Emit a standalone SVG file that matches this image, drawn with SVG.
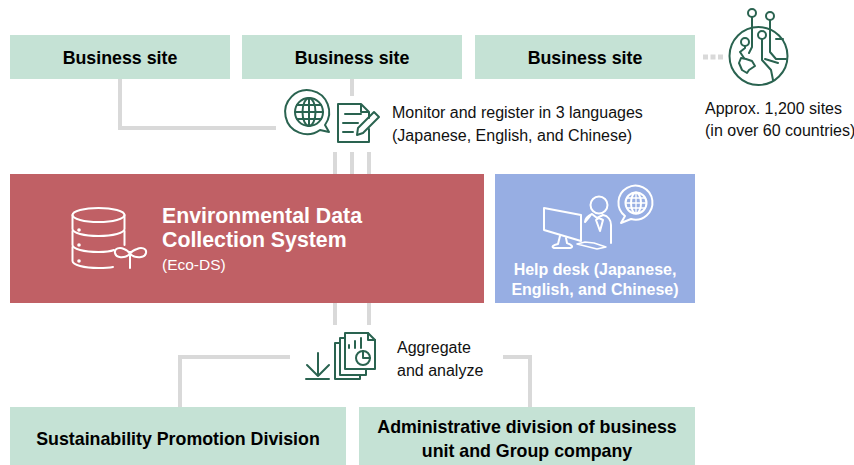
<svg xmlns="http://www.w3.org/2000/svg" width="854" height="465" viewBox="0 0 854 465">
<style>
text{font-family:"Liberation Sans",Arial,sans-serif;}
.g{fill:#c5e2d5}
.t{font-size:17.800px;font-weight:bold;fill:#000;text-anchor:middle}
.s{font-size:16px;fill:#111}
.c{fill:none;stroke:#d9d9d9;stroke-width:4}
.i{fill:none;stroke:#2a6350;stroke-width:2;stroke-linejoin:round;stroke-linecap:round}
.w{fill:none;stroke:#fff;stroke-width:2;stroke-linejoin:round;stroke-linecap:round}
</style>
<g id="connectors">
<path class="c" d="M120 79V128H276"/>
<path class="c" d="M352 79V96"/>
<path class="c" d="M335 152V174M352 152V174M369 152V174"/>
<path class="c" d="M335 303V325M369 303V325"/>
<path class="c" d="M180 407V357H290"/>
<path class="c" d="M503 357H530V407"/>
<path d="M703 57H723" fill="none" stroke="#d9d9d9" stroke-width="5" stroke-dasharray="5 2.500"/>
</g>
<g id="site1"><rect class="g" x="10" y="35" width="220" height="44"/><text class="t" x="120" y="64">Business site</text></g>
<g id="site2"><rect class="g" x="242" y="35" width="220" height="44"/><text class="t" x="352" y="64">Business site</text></g>
<g id="site3"><rect class="g" x="475" y="35" width="220" height="44"/><text class="t" x="585" y="64">Business site</text></g>
<g id="globe-icon" class="i">
<path d="M325 125A22 22 0 1 0 320 130L329 132Z"/>
<circle cx="309" cy="112" r="14"/>
<ellipse cx="309" cy="112" rx="6.500" ry="14"/>
<path d="M309 98V126M295 112H323M297 105H321M297 119H321"/>
</g>
<g id="form-icon" class="i">
<path d="M369 129V142H338V104H361L369 112V118M361 104V112H369"/>
<path d="M345 114H361M343 123H358M343 132H353"/>
<path d="M358 128L374 112L379 117L363 133L357 135Z"/>
</g>
<g id="monitor-label"><text class="s" x="392" y="118">Monitor and register in 3 languages</text><text class="s" x="392" y="141">(Japanese, English, and Chinese)</text></g>
<g id="world-icon" class="i">
<circle cx="758.500" cy="56" r="29"/>
<circle cx="752" cy="13" r="4"/><circle cx="770" cy="16" r="4"/><circle cx="762" cy="35" r="4"/><circle cx="745" cy="42" r="4"/>
<path d="M752 17V39M770 20V52L776 59H786M762 39V60L771 70L773 80"/>
<path d="M745 46V48L740 52L744 58M752 39V47L749 53M776 39H783M765 59L778 63"/>
<path d="M741 58L746 59L752 61L755 66L749 70L747 73L742 70L739 63Z"/>
</g>
<g id="sites-label"><text class="s" x="705" y="114">Approx. 1,200 sites</text><text class="s" x="705" y="136">(in over 60 countries)</text></g>
<g id="eco-ds">
<rect x="10" y="174" width="474" height="129" fill="#c06065"/>
<g class="w">
<ellipse cx="98.500" cy="215" rx="26" ry="7"/>
<path d="M72.500 215V229C72.500 233 84 236 98.500 236S124.500 233 124.500 229V215"/>
<path d="M72.500 231V245C72.500 249 84 252 98.500 252C104 252 109 252 114 250M124.500 231V245"/>
<path d="M72.500 247V261C72.500 265 84 268 98.500 268C103 268 108 268 113 267"/>
<path d="M130 252V268M130 254C124 259 116 258 115 253C114 248 120 247 124 249C127 250 129 252 130 254C131 252 134 250 137 249C141 247 147 248 146 253C145 258 136 259 130 254Z"/>
</g>
<circle cx="79" cy="230" r="1.800" fill="#fff"/><circle cx="79" cy="245" r="1.800" fill="#fff"/><circle cx="79" cy="261" r="1.800" fill="#fff"/>
<text x="162" y="223" font-size="21.300" font-weight="bold" fill="#fff">Environmental Data</text>
<text x="162" y="247" font-size="21.300" font-weight="bold" fill="#fff">Collection System</text>
<text x="162" y="270" font-size="15.500" fill="#fff">(Eco-DS)</text>
</g>
<g id="help-desk">
<rect x="495" y="174" width="200" height="129" fill="#97aee3"/>
<g class="w">
<path d="M544 208L581 215V241L544 230Z" />
<path d="M560 236L558 244C553 245 551 247 554 248H570C574 247 572 245 567 243L566 238"/>
<path d="M577 244L597 249L606 247L594 243L585 242Z" stroke-width="1.500"/>
<circle cx="599" cy="205" r="8.500"/>
<path d="M585 222C585 218 588 216 592 214L597 218L603 215C608 216 611 220 611 225V243M590 216L585 222M599 218L596 220L600 231L603 220Z"/>
<path d="M625 216A17 17 0 1 1 631 219L621 223Z"/>
<circle cx="636" cy="203" r="10.500"/>
<ellipse cx="636" cy="203" rx="5" ry="10.500"/>
<path d="M636 192.500V213.500M625.500 203H646.500M627 198H645M627 208H645" stroke-width="1.300"/>
</g>
<text x="595" y="275" font-size="16" font-weight="bold" fill="#fff" text-anchor="middle">Help desk (Japanese,</text>
<text x="595" y="295" font-size="16" font-weight="bold" fill="#fff" text-anchor="middle">English, and Chinese)</text>
</g>
<g id="aggregate-icon" class="i">
<path d="M318 353V376M307 365L318 376L329 365M306 379H329"/>
<path d="M340 343H335V379H360V375"/>
<path d="M345 338H340V375H366V369"/>
<path d="M345 333H368L375 340V369H345Z"/>
<path d="M368 333V340H375"/>
<path d="M349 348V345M355 348V341M361 348V338"/>
<circle cx="363" cy="358" r="7"/><path d="M363 351V358H370"/>
</g>
<g id="aggregate-label"><text class="s" x="397" y="353">Aggregate</text><text class="s" x="397" y="376">and analyze</text></g>
<g id="sustainability"><rect class="g" x="10" y="407" width="336" height="58"/><text class="t" x="178" y="445">Sustainability Promotion Division</text></g>
<g id="admin"><rect class="g" x="359" y="407" width="336" height="58"/><text class="t" x="527" y="433">Administrative division of business</text><text class="t" x="527" y="457">unit and Group company</text></g>
</svg>
